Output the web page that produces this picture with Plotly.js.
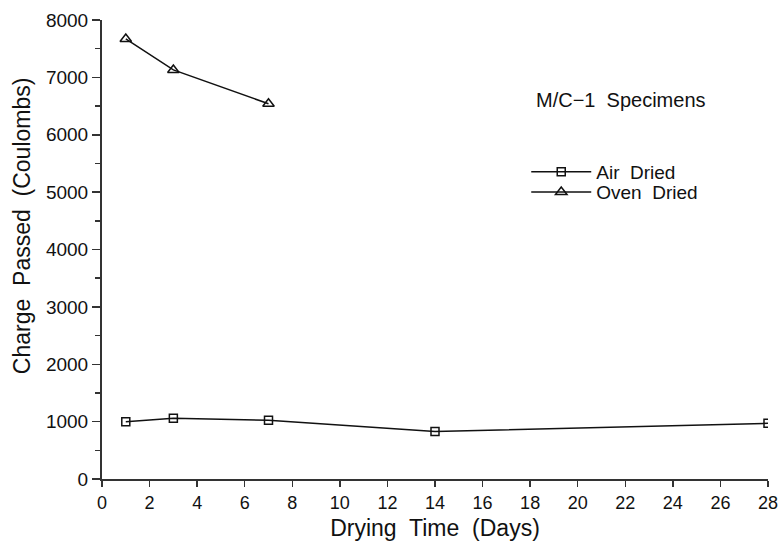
<!DOCTYPE html>
<html>
<head>
<meta charset="utf-8">
<script src="https://cdn.plot.ly/plotly-3.0.1.min.js"></script>
<style>html,body{margin:0;padding:0;background:#fff;}#chart{width:781px;height:542px;}</style>
</head>
<body>
<div id="chart"></div>
<script>
const airDays = [1, 3, 7, 14, 28];
const airCharge = [1000, 1058, 1023, 827, 971];
const ovenDays = [1, 3, 7];
const ovenCharge = [7670, 7130, 6540];
const seriesNames = ["Air  Dried", "Oven  Dried"];
const xTicks = [0, 2, 4, 6, 8, 10, 12, 14, 16, 18, 20, 22, 24, 26, 28];
const yTicks = [0, 1000, 2000, 3000, 4000, 5000, 6000, 7000, 8000];

const font = "Liberation Sans, Arial, sans-serif";
const ink = "#111";
const traces = [
  {x: airDays, y: airCharge, name: seriesNames[0], mode: "lines+markers", legend: "legend",
   line: {color: ink, width: 1.5},
   marker: {symbol: "square-open", size: 8, color: ink, line: {width: 1.5}}},
  {x: ovenDays, y: ovenCharge, name: seriesNames[1], mode: "lines+markers", legend: "legend2",
   line: {color: ink, width: 1.5},
   marker: {symbol: "triangle-up-open", size: 10, color: ink, line: {width: 1.5}}}
];
const legendCommon = {xanchor: "left", yanchor: "middle", bgcolor: "rgba(0,0,0,0)",
  font: {size: 19, family: font, color: ink}, itemwidth: 60, borderwidth: 0};
const layout = {
  width: 781, height: 542,
  margin: {l: 102, r: 13, t: 20, b: 63},
  paper_bgcolor: "#fff", plot_bgcolor: "#fff",
  font: {family: font, color: ink, size: 18},
  showlegend: true,
  legend: Object.assign({x: 0.637, y: 0.669}, legendCommon),
  legend2: Object.assign({x: 0.637, y: 0.625}, legendCommon),
  xaxis: {range: [0, 28], tickvals: xTicks, ticktext: xTicks.map(String),
          showline: true, linecolor: "#333", linewidth: 2, showgrid: false, zeroline: false,
          ticks: "outside", ticklen: 6, tickwidth: 1.5, tickcolor: "#333",
          tickfont: {size: 18, family: font},
          title: {text: "Drying  Time  (Days)", font: {size: 23, family: font}, standoff: 8}},
  yaxis: {range: [0, 8000], tickvals: yTicks, ticktext: yTicks.map(String),
          showline: true, linecolor: "#333", linewidth: 2, showgrid: false, zeroline: false,
          ticks: "outside", ticklen: 8, tickwidth: 1.5, tickcolor: "#333",
          minor: {dtick: 500, ticks: "outside", ticklen: 5, tickcolor: "#333", tickwidth: 1.5, showgrid: false},
          tickfont: {size: 19, family: font}},
  annotations: [
    {xref: "paper", yref: "paper", x: 0.78, y: 0.826, xanchor: "center", yanchor: "middle",
     text: "M/C\u22121  Specimens", showarrow: false, font: {size: 20, family: font, color: ink}},
    {xref: "paper", yref: "paper", x: -0.12, y: 0.551, xanchor: "center", yanchor: "middle",
     textangle: -90, text: "Charge  Passed  (Coulombs)", showarrow: false,
     font: {size: 23, family: font, color: ink}}
  ]
};
Plotly.newPlot("chart", traces, layout, {displayModeBar: false, staticPlot: true});
</script>
</body>
</html>
